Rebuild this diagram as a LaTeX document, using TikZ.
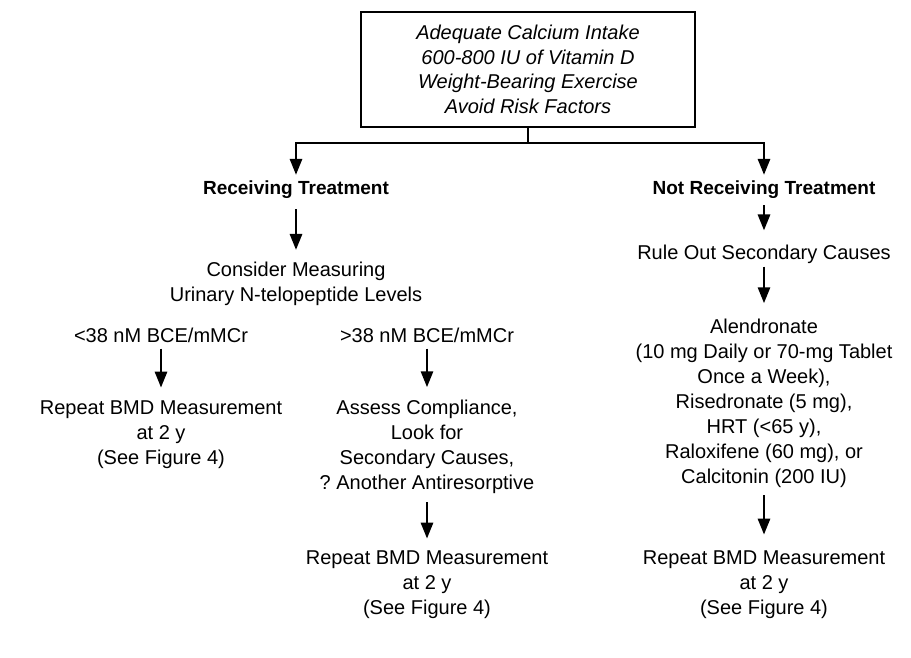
\documentclass[tikz,border=0pt]{standalone}
\usepackage{fontspec}
\setmainfont{Liberation Sans}
\usetikzlibrary{arrows.meta}

\begin{document}
\begin{tikzpicture}[x=1pt,y=-1pt,
		txt/.style={align=center,inner sep=0pt,font=\fontsize{20}{25}\selectfont},
		hdr/.style={txt,font=\fontsize{19}{24}\selectfont\bfseries},
		lnk/.style={line width=2.8pt},
		arr/.style={lnk,-{Triangle[length=16pt,width=12pt]},shorten <=6pt,shorten >=13pt}]
	\useasboundingbox (0,0) rectangle (911,657);
	
	\def\colL{161};
	\def\colM{296};
	\def\colN{427};
	\def\colR{764};
	
	\node [txt,draw,line width=1.5pt,minimum width=334pt,minimum height=115pt,
		font=\fontsize{20}{24.7}\selectfont\itshape] (goals) at (528,69.5)
		{Adequate Calcium Intake\\600-800 IU of Vitamin D\\Weight-Bearing Exercise\\Avoid Risk Factors};
	
	\begin{scope}
		\node [hdr] (treat) at (\colM,190) {Receiving Treatment};
		\node [txt] (measure) at (\colM,284) {Consider Measuring\\Urinary N-telopeptide Levels};
		\node [txt] (low) at (\colL,335) {<38 nM BCE/mMCr};
		\node [txt] (high) at (\colN,335) {>38 nM BCE/mMCr};
		\node [txt] (repeatL) at (\colL,434.8) {Repeat BMD Measurement\\at 2 y\\(See Figure 4)};
		\node [txt] (assess) at (\colN,447.3) {Assess Compliance,\\Look for\\Secondary Causes,\\?\ Another Antiresorptive};
		\node [txt] (repeatM) at (\colN,584.8) {Repeat BMD Measurement\\at 2 y\\(See Figure 4)};
	\end{scope}
	
	\begin{scope}
		\node [hdr] (notreat) at (\colR,190) {Not Receiving Treatment};
		\node [txt] (ruleout) at (\colR,254) {Rule Out Secondary Causes};
		\node [txt] (drugs) at (\colR,403.8) {Alendronate\\(10 mg Daily or 70-mg Tablet\\Once a Week),\\Risedronate (5 mg),\\HRT (<65 y),\\Raloxifene (60 mg), or\\Calcitonin (200 IU)};
		\node [txt] (repeatR) at (\colR,584.8) {Repeat BMD Measurement\\at 2 y\\(See Figure 4)};
	\end{scope}
	
	\coordinate (split) at (goals.south |- 0,143);
	
	\begin{scope}
		\draw [lnk] (goals.south) -- (split);
		\draw [arr,shorten <=0pt,shorten >=6pt] (split) -| (treat.north);
		\draw [arr,shorten <=0pt,shorten >=6pt] (split) -| (notreat.north);
		
		\draw [arr,shorten <=10pt,shorten >=12pt] (treat) -- (measure);
		\draw [arr] (low) -- (repeatL);
		\draw [arr] (high) -- (assess);
		\draw [arr,shorten <=8pt,shorten >=12pt] (assess) -- (repeatM);
		
		\draw [arr,shorten <=6pt,shorten >=14pt] (notreat) -- (ruleout);
		\draw [arr,shorten <=3pt,shorten >=16pt] (ruleout) -- (drugs);
		\draw [arr,shorten <=7pt,shorten >=16pt] (drugs) -- (repeatR);
	\end{scope}
\end{tikzpicture}
\end{document}
